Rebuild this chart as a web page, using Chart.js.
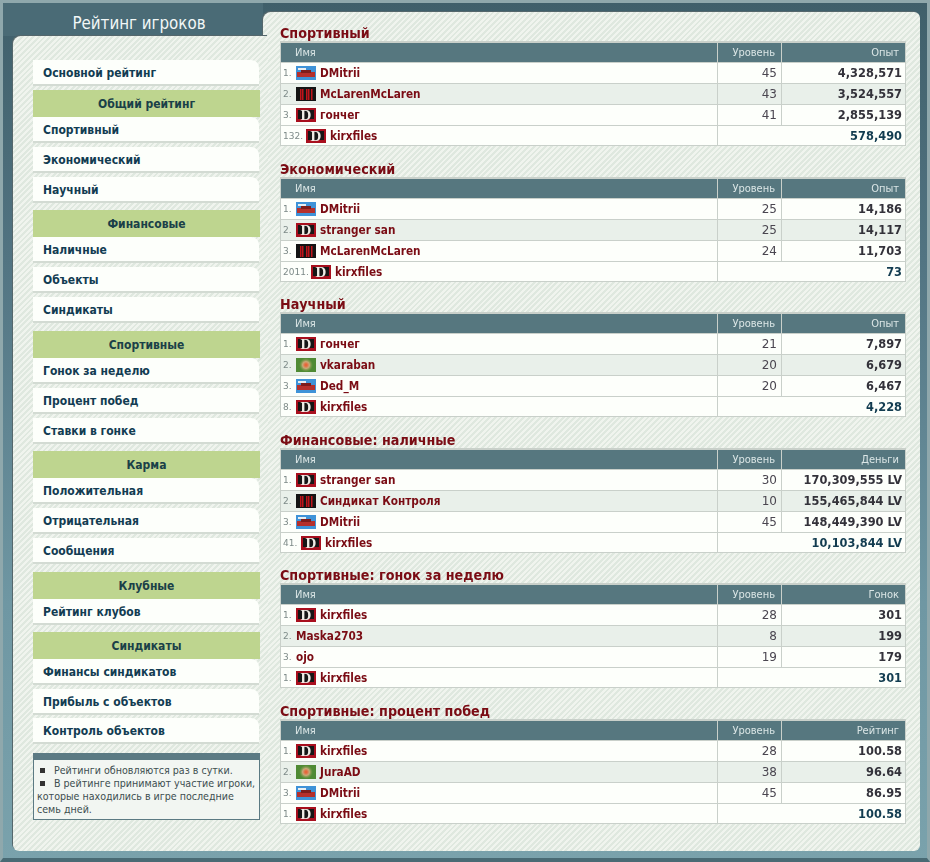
<!DOCTYPE html>
<html lang="ru">
<head>
<meta charset="utf-8">
<title>Рейтинг игроков</title>
<script src="https://cdn.jsdelivr.net/npm/chart.js@4/dist/chart.umd.min.js"></script>
<style>
html, body { margin: 0; padding: 0; }
body { width: 930px; height: 862px; position: relative; overflow: hidden; font-family: "DejaVu Sans", sans-serif;
    background: linear-gradient(to bottom, #3f5f6a 0, #527482 30%, #6f97a3 70%, #7aa2ac 100%); }
.frame { position: absolute; left: 0; top: 0; width: 930px; height: 862px; box-sizing: border-box;
    border: 3px solid #8fa8ac; border-bottom-color: #496a74; border-bottom-width: 4px; }
.hatch { background-color: #e8efe7;
    background-image: repeating-linear-gradient(135deg, #f0f4ee 0, #f0f4ee 2px, #dfe8df 2px, #dfe8df 4px); }
#leftTab { position: absolute; left: 3px; top: 3px; width: 260px; height: 33px; background: #4a6b76; }
#rightPanel { position: absolute; left: 263px; top: 12px; width: 657px; height: 839px; border-radius: 8px 6px 6px 0;
    box-shadow: -1px -1px 0 #55676c; }
#leftPanel { position: absolute; left: 13px; top: 36px; width: 255px; height: 815px; border-radius: 8px 0 0 6px;
    box-shadow: -1px -1px 0 #55676c; }
#pageTitle { position: absolute; left: 13px; top: 9px; width: 252px; text-align: center; color: #f2f7f6;
    font: 16.8px/28px "DejaVu Sans Condensed", "DejaVu Sans", sans-serif; }
.item, .group { position: absolute; left: 33px; width: 226px; box-sizing: border-box; font: bold 12px "DejaVu Sans Condensed", "DejaVu Sans", sans-serif; }
.item { height: 26px; line-height: 27px; padding-left: 10px; color: #123c52; background: #fdfffb;
    border-top-right-radius: 8px; border-bottom: 2px solid #d3dbd3; }
.group { height: 27px; line-height: 28px; text-align: center; color: #1a4048; background: #bed58f; width: 227px; }
#infoBox { position: absolute; left: 33px; top: 753px; width: 227px; height: 67px; box-sizing: border-box;
    background: #f2f6f2; border: 1px solid #5b7a83; border-top-width: 7px; white-space: nowrap;
    font: 10.6px/13px "DejaVu Sans Condensed", "DejaVu Sans", sans-serif; color: #3d4e50; padding: 4px 0 0 3px; }
#infoBox span { display: inline-block; width: 5px; height: 5px; background: #333; margin: 0 9px 1px 3px; }
canvas { position: absolute; left: 280px; }
</style>
</head>
<body>
<div class="frame"></div>
<div id="leftTab"></div>
<div id="rightPanel" class="hatch"></div>
<div id="leftPanel" class="hatch"></div>
<div id="pageTitle">Рейтинг игроков</div>
<div id="menu"></div>
<div id="infoBox"><span></span>Рейтинги обновляются раз в сутки.<br><span></span>В рейтинге принимают участие игроки,<br>которые находились в игре последние<br>семь дней.</div>

<canvas id="table0" width="626" height="122"></canvas>
<canvas id="table1" width="626" height="122"></canvas>
<canvas id="table2" width="626" height="122"></canvas>
<canvas id="table3" width="626" height="122"></canvas>
<canvas id="table4" width="626" height="122"></canvas>
<canvas id="table5" width="626" height="122"></canvas>

<script>
// sidebar
const menuGroups = ['Общий рейтинг', 'Финансовые', 'Спортивные', 'Карма', 'Клубные', 'Синдикаты'];
const menuItems = [
    ['Спортивный', 'Экономический', 'Научный'],
    ['Наличные', 'Объекты', 'Синдикаты'],
    ['Гонок за неделю', 'Процент побед', 'Ставки в гонке'],
    ['Положительная', 'Отрицательная', 'Сообщения'],
    ['Рейтинг клубов'],
    ['Финансы синдикатов', 'Прибыль с объектов', 'Контроль объектов']
];

// tables
const titles = ['Спортивный', 'Экономический', 'Научный', 'Финансовые: наличные', 'Спортивные: гонок за неделю', 'Спортивные: процент побед'];
const valueHeads = ['Опыт', 'Опыт', 'Опыт', 'Деньги', 'Гонок', 'Рейтинг'];

const ranks = [
    ['1.', '2.', '3.', '132.'],
    ['1.', '2.', '3.', '2011.'],
    ['1.', '2.', '3.', '8.'],
    ['1.', '2.', '3.', '41.'],
    ['1.', '2.', '3.', '1.'],
    ['1.', '2.', '3.', '1.']
];
const names = [
    ['DMitrii', 'McLarenMcLaren', 'гончег', 'kirxfiles'],
    ['DMitrii', 'stranger san', 'McLarenMcLaren', 'kirxfiles'],
    ['гончег', 'vkaraban', 'Ded_M', 'kirxfiles'],
    ['stranger san', 'Синдикат Контроля', 'DMitrii', 'kirxfiles'],
    ['kirxfiles', 'Maska2703', 'ojo', 'kirxfiles'],
    ['kirxfiles', 'JuraAD', 'DMitrii', 'kirxfiles']
];
const levels = [
    [45, 43, 41, null],
    [25, 25, 24, null],
    [21, 20, 20, null],
    [30, 10, 45, null],
    [28, 8, 19, null],
    [28, 38, 45, null]
];
const values = [
    ['4,328,571', '3,524,557', '2,855,139', '578,490'],
    ['14,186', '14,117', '11,703', '73'],
    ['7,897', '6,679', '6,467', '4,228'],
    ['170,309,555 LV', '155,465,844 LV', '148,449,390 LV', '10,103,844 LV'],
    ['301', '199', '179', '301'],
    ['100.58', '96.64', '86.95', '100.58']
];
const iconOf = {
    'DMitrii': 'photo', 'Ded_M': 'photo',
    'McLarenMcLaren': 'bars', 'Синдикат Контроля': 'bars',
    'vkaraban': 'green', 'JuraAD': 'green',
    'гончег': 'd', 'stranger san': 'd', 'kirxfiles': 'd'
};

const tableTops = [24, 160, 295, 431, 566, 702];
const groupTops = [90, 210, 331, 451, 572, 632];

const menu = document.getElementById('menu');
function addMenu(cls, text, top) {
    const el = document.createElement('div');
    el.className = cls;
    el.textContent = text;
    el.style.top = top + 'px';
    menu.appendChild(el);
}
addMenu('item', 'Основной рейтинг', 60);
menuGroups.forEach((g, i) => {
    addMenu('group', g, groupTops[i]);
    menuItems[i].forEach((t, j) => addMenu('item', t, groupTops[i] + 27 + j * 30 - (i == 5 && j == 2 ? 1 : 0)));
});

function drawIcon(ctx, kind, x, y) {
    ctx.save();
    if (kind == 'photo') {
        ctx.fillStyle = '#3f93d8'; ctx.fillRect(x, y, 20, 14);
        ctx.fillStyle = '#e8eef2'; ctx.fillRect(x + 2, y + 2, 8, 2);
        ctx.fillStyle = '#b5302c'; ctx.fillRect(x + 1, y + 6, 18, 5);
        ctx.fillStyle = '#7d1d1c'; ctx.fillRect(x + 5, y + 4, 10, 3);
    } else if (kind == 'bars') {
        ctx.fillStyle = '#141414'; ctx.fillRect(x, y, 20, 14);
        ctx.fillStyle = '#c0141a';
        [4, 6, 10, 12, 15].forEach(b => ctx.fillRect(x + b, y + 2, 1.5, 11));
    } else if (kind == 'green') {
        ctx.fillStyle = '#4f8a34'; ctx.fillRect(x, y, 20, 14);
        const glow = ctx.createRadialGradient(x + 10, y + 7, 1, x + 10, y + 7, 7);
        glow.addColorStop(0, '#e6673a');
        glow.addColorStop(0.4, '#c9a878');
        glow.addColorStop(1, 'rgba(120,160,70,0)');
        ctx.fillStyle = glow; ctx.fillRect(x, y, 20, 14);
    } else {
        ctx.fillStyle = '#a80f1e'; ctx.fillRect(x, y, 20, 14);
        ctx.fillStyle = '#161616'; ctx.fillRect(x + 2, y + 2, 16, 9);
        ctx.fillStyle = '#f0ece6';
        ctx.font = 'bold 15px "Liberation Serif", serif';
        ctx.textAlign = 'center';
        ctx.textBaseline = 'middle';
        ctx.fillText('D', x + 10, y + 8);
    }
    ctx.restore();
}

// text, icons and column rules of one table, placed through its scales
const cellsPlugin = {
    id: 'cells',
    afterDatasetsDraw(chart, args, opts) {
        const { ctx, chartArea, scales: { x, y } } = chart;
        const t = opts.index;
        const levelLeft = x.getPixelForValue(437);
        const valueLeft = x.getPixelForValue(501);
        const rowH = y.getPixelForValue(1) - y.getPixelForValue(0);

        ctx.save();
        ctx.strokeStyle = '#c9d0ca';
        ctx.lineWidth = 1;
        ctx.strokeRect(chartArea.left + 0.5, chartArea.top + 0.5, chartArea.width - 1, chartArea.height - 1);
        ctx.beginPath();
        ctx.moveTo(levelLeft + 0.5, chartArea.top);
        ctx.lineTo(levelLeft + 0.5, chartArea.bottom);
        ctx.moveTo(valueLeft + 0.5, chartArea.top);
        ctx.lineTo(valueLeft + 0.5, chartArea.bottom - rowH);
        ctx.stroke();

        ctx.textBaseline = 'middle';
        const headY = y.getPixelForValue(0) + 0.5;
        ctx.fillStyle = '#dbe6e6';
        ctx.font = '11px "DejaVu Sans Condensed", "DejaVu Sans", sans-serif';
        ctx.textAlign = 'left';
        ctx.fillText('Имя', x.getPixelForValue(15), headY);
        ctx.textAlign = 'right';
        ctx.fillText('Уровень', x.getPixelForValue(495), headY);
        ctx.fillText(valueHeads[t], x.getPixelForValue(619), headY);

        names[t].forEach((name, r) => {
            const py = Math.round(y.getPixelForValue(r + 1));
            const rank = ranks[t][r];
            ctx.textAlign = 'left';
            ctx.fillStyle = '#7d8a88';
            ctx.font = '9px "DejaVu Sans", sans-serif';
            ctx.fillText(rank, x.getPixelForValue(3), py + 1);

            let px = x.getPixelForValue(16 + (rank.length - 2) * 5);
            const icon = iconOf[name];
            if (icon) {
                drawIcon(ctx, icon, px, py - 7);
                px += 24;
            }
            ctx.fillStyle = '#7a0c14';
            ctx.font = 'bold 11.7px "DejaVu Sans Condensed", "DejaVu Sans", sans-serif';
            ctx.fillText(name, px, py + 1);

            ctx.textAlign = 'right';
            if (levels[t][r] !== null) {
                ctx.fillStyle = '#4a4650';
                ctx.font = '12px "DejaVu Sans", sans-serif';
                ctx.fillText(levels[t][r], x.getPixelForValue(497), py + 1);
            }
            ctx.fillStyle = r == 3 ? '#123c50' : '#33323a';
            ctx.font = 'bold 11.4px "DejaVu Sans", sans-serif';
            ctx.fillText(values[t][r], x.getPixelForValue(622), py + 1);
        });
        ctx.restore();
    }
};

titles.forEach((title, t) => {
    const canvas = document.getElementById('table' + t);
    canvas.style.top = tableTops[t] + 'px';
    const rows = [' '].concat(names[t]);
    new Chart(canvas, {
        type: 'bar',
        data: {
            labels: rows,
            datasets: [{
                data: rows.map(() => [0, 626]),
                backgroundColor: ['#56777f', '#fdfffb', '#e9f0ea', '#fdfffb', '#fdfffb'],
                barPercentage: 1,
                categoryPercentage: 1
            }]
        },
        options: {
            indexAxis: 'y',
            responsive: false,
            animation: false,
            devicePixelRatio: 1,
            layout: { padding: 0 },
            scales: {
                x: { display: false, min: 0, max: 626 },
                y: {
                    grid: { z: 1, color: '#c9d0ca', drawTicks: false },
                    border: { display: false },
                    ticks: { display: false }
                }
            },
            plugins: {
                legend: { display: false },
                tooltip: { enabled: false },
                title: {
                    display: true,
                    text: title,
                    align: 'start',
                    color: '#7a0c14',
                    font: { family: '"DejaVu Sans Condensed", "DejaVu Sans", sans-serif', size: 14.2, weight: 'bold', lineHeight: 16 / 14.2 },
                    padding: { top: 2, bottom: 0 }
                },
                cells: { index: t }
            }
        },
        plugins: [cellsPlugin]
    });
});
</script>
</body>
</html>
